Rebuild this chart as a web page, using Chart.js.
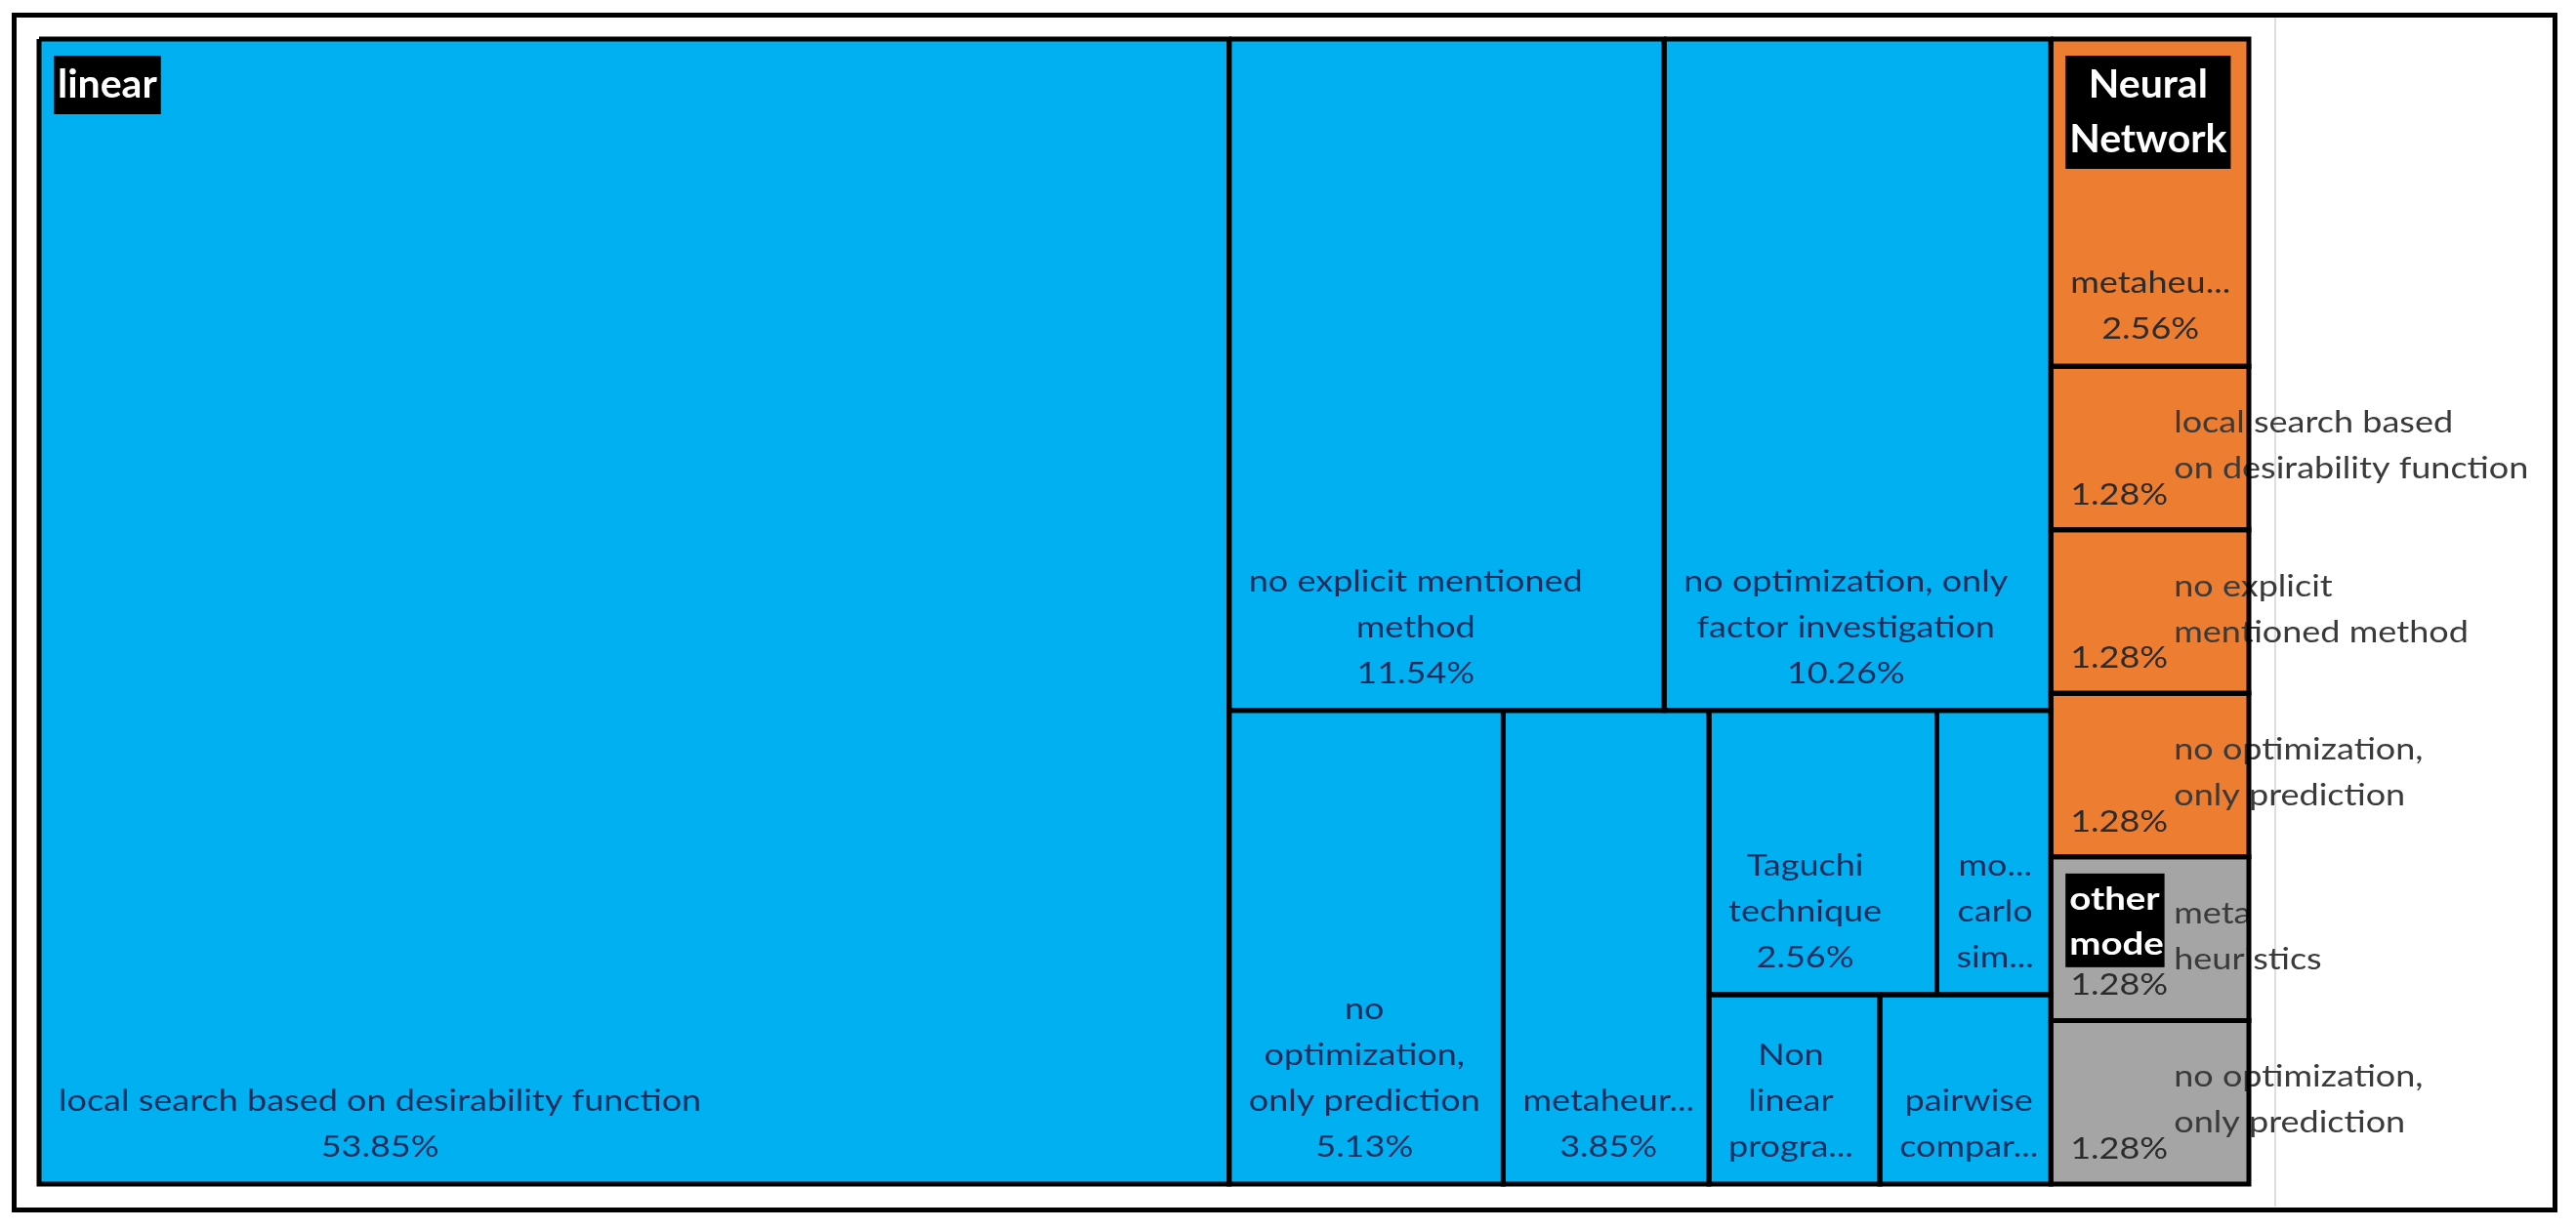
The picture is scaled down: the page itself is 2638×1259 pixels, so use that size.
<!DOCTYPE html>
<html>
<head>
<meta charset="utf-8">
<title>Treemap</title>
<script src="https://cdn.jsdelivr.net/npm/chart.js@4.4.0/dist/chart.umd.min.js"></script>
<style>
  html, body { margin: 0; padding: 0; background: #fff; }
  #wrap { position: relative; width: 2638px; height: 1259px; }
  #edge { position: absolute; left: 2329px; top: 18px; width: 2px; height: 1218px; background: #dedede; z-index: 0; }
  #treemap { position: absolute; left: 0; top: 0; z-index: 1; }
  #frame { position: absolute; left: 12px; top: 13px; width: 2607px; height: 1229px; border: 5px solid #000; box-sizing: border-box; z-index: 2; }
</style>
</head>
<body>
<div id="wrap">
  <div id="edge"></div>
  <canvas id="treemap" width="2638" height="1259"></canvas>
  <div id="frame"></div>
</div>
<script>
// groups (top level of the treemap)
var groupNames = ['linear', 'Neural Network', 'other model'];
var groupColors = ['#00B0F0', '#ED7D31', '#A5A5A5'];

// leaves, in percent
var linearNames = ['local search based on desirability function', 'no explicit mentioned method',
  'no optimization, only factor investigation', 'no optimization, only prediction', 'metaheuristics',
  'Taguchi technique', 'monte carlo simulation', 'Non linear programming', 'pairwise comparison'];
var linearValues = [53.85, 11.54, 10.26, 5.13, 3.85, 2.56, 1.28, 1.28, 1.28];

var nnNames = ['metaheuristics', 'local search based on desirability function',
  'no explicit mentioned method', 'no optimization, only prediction'];
var nnValues = [2.56, 1.28, 1.28, 1.28];

var otherNames = ['meta heuristics', 'no optimization, only prediction'];
var otherValues = [1.28, 1.28];

var leafNames = [linearNames, nnNames, otherNames];
var leafValues = [linearValues, nnValues, otherValues];

// plot area in pixels (canvas minus padding)
var PAD = { left: 40, top: 40, right: 335, bottom: 46 };
var AREA_W = 2638 - PAD.left - PAD.right;
var AREA_H = 1259 - PAD.top - PAD.bottom;

var SX = 1.2;          // horizontal stretch of the label font
var BODY_FONT = '30px Lato';
var LINE_H = 47;

function sum(items) {
  var s = 0;
  items.forEach(function (it) { s += it.value; });
  return s;
}

// split the list in two parts of nearly equal weight, along the longer side
function splitLayout(items, x, y, w, h, out) {
  if (items.length === 1) {
    out.push({ item: items[0], x: x, y: y, w: w, h: h });
    return;
  }
  var total = sum(items), best = Infinity, k = 1, acc = 0;
  for (var i = 1; i < items.length; i++) {
    acc += items[i - 1].value;
    var d = Math.abs(total - 2 * acc);
    if (d <= best + 1e-6) { best = d; k = i; }
  }
  var a = items.slice(0, k), b = items.slice(k);
  var f = sum(a) / total;
  if (w >= h) {
    splitLayout(a, x, y, w * f, h, out);
    splitLayout(b, x + w * f, y, w * (1 - f), h, out);
  } else {
    splitLayout(a, x, y, w, h * f, out);
    splitLayout(b, x, y + h * f, w, h * (1 - f), out);
  }
}

var groups = groupNames.map(function (g, gi) {
  var kids = leafNames[gi].map(function (n, li) {
    return { name: n, value: leafValues[gi][li], group: gi };
  });
  return { name: g, value: sum(kids), children: kids, index: gi };
});

var groupCells = [];
splitLayout(groups, 0, 0, AREA_W, AREA_H, groupCells);

var cells = [];
groupCells.forEach(function (gc) {
  splitLayout(gc.item.children, gc.x, gc.y, gc.w, gc.h, cells);
});

function rectPoints(c) {
  return [
    { x: c.x, y: c.y }, { x: c.x + c.w, y: c.y },
    { x: c.x + c.w, y: c.y + c.h }, { x: c.x, y: c.y + c.h },
    { x: c.x, y: c.y }
  ];
}

var fillSets = cells.map(function (c) {
  return {
    data: rectPoints(c), showLine: true, fill: 'shape',
    backgroundColor: groupColors[c.item.group], borderWidth: 0,
    pointRadius: 0, order: 2, clip: false
  };
});
var borderSets = cells.map(function (c) {
  return {
    data: rectPoints(c), showLine: true, fill: false,
    borderColor: '#000', borderWidth: 5, borderJoinStyle: 'miter',
    pointRadius: 0, order: 1, clip: false
  };
});

// text helpers (stretched font)
function tw(ctx, s, sx) { return ctx.measureText(s).width * (sx || SX); }
function put(ctx, s, x, y, align, sx) {
  sx = sx || SX;
  var w = ctx.measureText(s).width * sx;
  var x0 = align === 'center' ? x - w / 2 : x;
  ctx.save();
  ctx.translate(x0, y);
  ctx.scale(sx, 1);
  ctx.textAlign = 'left';
  ctx.fillText(s, 0, 0);
  ctx.restore();
}

function wrapWords(ctx, text, maxW) {
  var words = text.split(' '), lines = [], cur = '', cut = false;
  words.forEach(function (wd) {
    var trial = cur ? cur + ' ' + wd : wd;
    if (tw(ctx, trial) <= maxW) { cur = trial; return; }
    if (cur) lines.push(cur);
    cur = '';
    if (tw(ctx, wd) <= maxW) {
      cur = wd;
    } else {
      var p = wd;
      while (p.length > 1 && tw(ctx, p + '...') > maxW) p = p.slice(0, -1);
      lines.push(p + '...');
      cut = true;
    }
  });
  if (cur) lines.push(cur);
  return { lines: lines, cut: cut };
}

function leafLabel(ctx, c, left, top, right, bottom) {
  var w = right - left, h = bottom - top;
  var val = c.item.value.toFixed(2) + '%';
  ctx.font = BODY_FONT;
  ctx.textBaseline = 'alphabetic';
  var dark = c.item.group === 0 ? '#1b2d5c' : '#2b2b2b';

  if (h < 180) {
    // narrow side cells: value bottom-left, name spilling out on the right
    var words = c.item.name.split(' ');
    var half = Math.ceil(words.length / 2);
    var l1 = words.slice(0, half).join(' '), l2 = words.slice(half).join(' ');
    var mid = (top + bottom) / 2;
    ctx.fillStyle = '#3a3a3a';
    put(ctx, l1, left + 126, mid - 16, 'left');
    if (l2) put(ctx, l2, left + 126, mid + 31, 'left');
    ctx.fillStyle = dark;
    put(ctx, val, left + 20, bottom - 26, 'left');
    return;
  }

  var wrap = wrapWords(ctx, c.item.name, w - 32);
  var lines = wrap.lines.slice();
  if (!(wrap.cut && h < 300)) lines.push(val);
  var blockW = 0;
  lines.forEach(function (s) { blockW = Math.max(blockW, tw(ctx, s)); });
  var cx = left + 20 + blockW / 2;
  var base = bottom - 28 - (lines.length - 1) * LINE_H;
  ctx.fillStyle = dark;
  lines.forEach(function (s, i) { put(ctx, s, cx, base + i * LINE_H, 'center'); });
}

function groupHeader(ctx, gc, left, top, right, bottom) {
  var small = (bottom - top) < 400;
  var sx = small ? SX : 1;
  ctx.font = small ? 'bold 32px Lato' : 'bold 41px Lato';
  var lineH = small ? 46 : 56;
  var first = small ? 37 : 43;
  var maxW = right - left - 32;
  var words = gc.item.name.split(' '), lines = [], cur = '';
  words.forEach(function (wd) {
    var trial = cur ? cur + ' ' + wd : wd;
    if (tw(ctx, trial, sx) <= maxW || !cur) { cur = trial; } else { lines.push(cur); cur = wd; }
  });
  if (cur) lines.push(cur);
  var bw = 0;
  lines.forEach(function (s) { bw = Math.max(bw, tw(ctx, s, sx)); });
  bw += 8;
  if (small) bw = Math.min(bw, (right - left) / 2);
  var bx = left + 15, by = top + 17, bh = lines.length * lineH + 4;
  ctx.save();
  ctx.fillStyle = '#000';
  ctx.fillRect(bx, by, bw, bh);
  ctx.beginPath();
  ctx.rect(bx, by, bw, bh);
  ctx.clip();
  ctx.fillStyle = '#fff';
  lines.forEach(function (s, i) {
    if (small) put(ctx, s, bx + 4, by + first + i * lineH, 'left', sx);
    else put(ctx, s, bx + bw / 2, by + first + i * lineH, 'center', sx);
  });
  ctx.restore();
}

var labelPlugin = {
  id: 'cellLabels',
  afterDatasetDraw: function (chart, args) {
    if (args.index !== 0) return;
    var ctx = chart.ctx, xs = chart.scales.x, ys = chart.scales.y;
    ctx.save();
    cells.forEach(function (c) {
      leafLabel(ctx, c, xs.getPixelForValue(c.x), ys.getPixelForValue(c.y),
        xs.getPixelForValue(c.x + c.w), ys.getPixelForValue(c.y + c.h));
    });
    groupCells.forEach(function (gc) {
      groupHeader(ctx, gc, xs.getPixelForValue(gc.x), ys.getPixelForValue(gc.y),
        xs.getPixelForValue(gc.x + gc.w), ys.getPixelForValue(gc.y + gc.h));
    });
    ctx.restore();
  }
};

function build() {
  new Chart('treemap', {
    type: 'scatter',
    data: { datasets: fillSets.concat(borderSets) },
    options: {
      responsive: false,
      animation: false,
      events: [],
      layout: { padding: PAD },
      plugins: { legend: { display: false }, tooltip: { enabled: false } },
      elements: { line: { tension: 0 } },
      scales: {
        x: { type: 'linear', min: 0, max: AREA_W, display: false },
        y: { type: 'linear', min: 0, max: AREA_H, reverse: true, display: false }
      }
    },
    plugins: [labelPlugin]
  });
}

if (document.fonts && document.fonts.load) {
  Promise.all([document.fonts.load('30px Lato'), document.fonts.load('bold 41px Lato'),
    document.fonts.load('bold 32px Lato')]).then(build, build);
} else {
  build();
}
</script>
</body>
</html>
